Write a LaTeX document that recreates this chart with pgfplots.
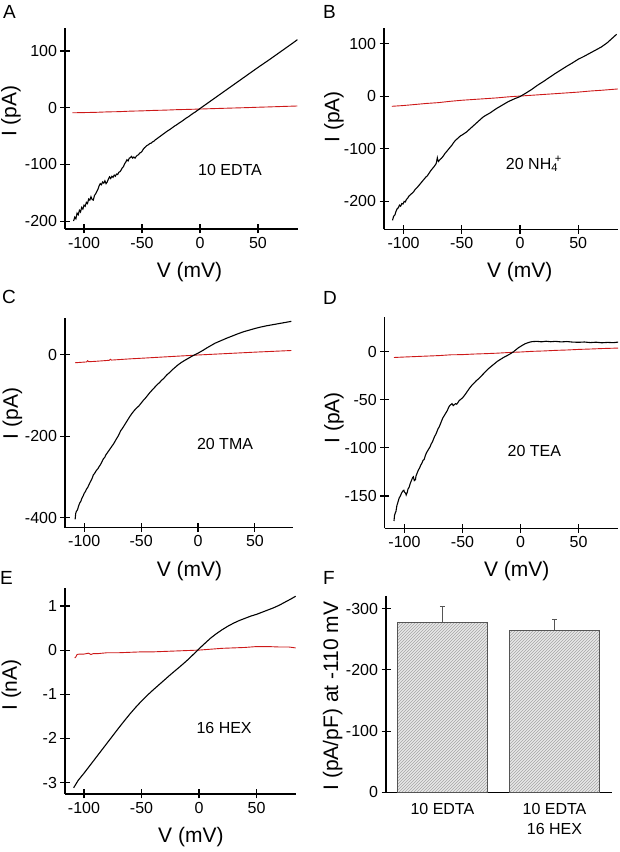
\documentclass[border=0pt]{standalone}
\usepackage{fontspec}
\setmainfont{Liberation Sans}
\usepackage{pgfplots}
\pgfplotsset{compat=1.18}
\usetikzlibrary{patterns}
\definecolor{tracered}{RGB}{205,25,25}
\definecolor{bargray}{RGB}{232,232,232}
\definecolor{hatchgray}{RGB}{165,165,165}
\definecolor{edgegray}{RGB}{85,85,85}
\tikzset{
  blk/.style={black, line width=1.1pt},
  rd/.style={tracered, line width=0.9pt},
  ann/.style={font=\fontsize{16}{18}\selectfont},
  letter/.style={anchor=base west, inner sep=0pt, font=\fontsize{19}{22}\selectfont},
}
\pgfplotsset{
  igor/.style={
    scale only axis, anchor=south west,
    axis x line*=bottom, axis y line*=left,
    axis line style={line width=1.1pt,-},
    tick align=center, major tick length=9pt,
    every tick/.style={line width=1.1pt,black},
    tick label style={font=\fontsize{16}{18}\selectfont},
    label style={font=\fontsize{21}{24}\selectfont},
    /pgf/number format/assume math mode=true,
    xtick={-100,-50,0,50},
    xlabel={V (mV)},
  },
}
\newcommand{\xlab}[1]{xlabel style={at={(axis description cs:#1,0)}, anchor=center, yshift=-43pt}}
\newcommand{\ylab}[2]{ylabel style={at={(axis description cs:#1,#2)}, anchor=center}}
\begin{document}
\begin{tikzpicture}
\useasboundingbox (0,0) rectangle (620pt,852pt);
\node[letter] at (3pt,833.5pt) {A};
\node[letter] at (323pt,833.5pt) {B};
\node[letter] at (2pt,548pt) {C};
\node[letter] at (323pt,547pt) {D};
\node[letter] at (0pt,267pt) {E};
\node[letter] at (323pt,267pt) {F};

% ---------- A ----------
\begin{axis}[igor, at={(65pt,623pt)}, width=233pt, height=201pt,
  xmin=-116.4, xmax=84.5, ymin=-214, ymax=140.6,
  ytick={-200,-100,0,100}, ylabel={I (pA)}, \xlab{0.534}, \ylab{-0.232}{0.587}]
\addplot[rd] coordinates {(-110,-9) (-100,-8.6) (-90,-8.2) (-80,-7.4) (-70,-7) (-60,-6.1) (-50,-5.6) (-40,-4.8) (-30,-4.3) (-20,-3.5) (-10,-3) (0,-2.4) (10,-1.7) (20,-1.1) (30,-0.5) (40,0.1) (50,0.8) (60,1.4) (70,2.1) (84,3)};
\addplot[blk] coordinates {(-109,-200) (-108,-193) (-107,-196) (-106,-186) (-105,-189) (-104,-181) (-103,-184) (-102,-176) (-101,-179) (-100,-172) (-99,-174) (-98,-167) (-97,-169) (-96,-161) (-95,-163) (-94,-157) (-93,-162) (-92,-163) (-91,-155) (-90,-152) (-89,-148) (-88,-144) (-87,-138) (-86,-134) (-85,-136) (-84,-131) (-83,-133) (-82,-129) (-81,-134) (-80,-131) (-79,-126) (-78,-122) (-77,-125) (-76,-121) (-75,-123) (-74,-119) (-73,-121) (-72,-117) (-71,-118) (-70,-114) (-69,-113) (-68,-110) (-67,-106) (-66,-104) (-65,-99) (-64,-96) (-63,-92) (-62,-94) (-61,-89) (-60,-88) (-59,-86) (-58,-89) (-57,-87) (-56,-89) (-55,-86) (-54,-84) (-53,-83) (-52,-80) (-51,-79) (-50,-77) (-49,-73.5) (-48,-71) (-47,-69) (-46,-67) (-45,-66) (-44,-64.5) (-43,-63) (-42,-62.5) (-41,-60.5) (-40,-59.5) (-39,-57.5) (-38,-56) (-37,-54.5) (-36,-53) (-35,-51.5) (-34,-50) (-33,-48.5) (-32,-47) (-31,-45.5) (-30,-44) (-28,-41) (-26,-38.5) (-24,-35.5) (-22,-32.5) (-20,-30) (-18,-27) (-16,-24.5) (-14,-21.5) (-12,-18.5) (-10,-16) (-8,-13) (-6,-10) (-4,-7.5) (-2,-4.5) (0,-1.5) (10,13) (20,27.5) (30,42) (40,56.5) (50,71) (60,85) (70,99.5) (80,114) (84,120)};
\node[ann] at (axis cs:25.9,-110.4) {10 EDTA};
\end{axis}

% ---------- B ----------
\begin{axis}[igor, at={(384pt,622.7pt)}, width=234pt, height=201.3pt,
  xmin=-116.8, xmax=84.2, ymin=-253, ymax=130,
  ytick={-200,-100,0,100}, ylabel={I (pA)}, \xlab{0.58}, \ylab{-0.214}{0.558}]
\addplot[rd] coordinates {(-110,-19) (-100,-17.5) (-90,-15.5) (-80,-13.5) (-70,-12) (-60,-9.5) (-50,-7.5) (-40,-6) (-30,-4.5) (-20,-3) (-10,-1) (0,0.5) (10,2) (20,3.5) (30,5) (40,6.5) (50,8) (60,10) (70,11.5) (84,14)};
\addplot[blk] coordinates {(-109.5,-236) (-108.5,-228) (-107.5,-226) (-106.5,-219) (-105.5,-214) (-104.5,-212) (-103.5,-207) (-102.5,-209) (-101.5,-204) (-100.5,-205) (-99.5,-200) (-98.5,-201) (-97.5,-196) (-96.5,-194) (-95.5,-190) (-94.5,-188) (-93,-185) (-91.5,-182) (-90,-177) (-88.5,-174) (-87,-170) (-85.5,-166) (-84,-162) (-82.5,-158) (-81,-154) (-79.5,-151) (-78,-146) (-76.5,-141) (-75,-137) (-73.5,-133) (-72,-128) (-71.5,-123) (-71,-117) (-70.5,-122) (-70,-124) (-69,-121) (-67.5,-118) (-66,-114) (-64.5,-109) (-63,-105) (-61.5,-101) (-60,-97) (-58.5,-93) (-57,-88) (-55.5,-84) (-54,-81) (-52.5,-78) (-51,-75) (-50,-74) (-48,-71) (-46,-68) (-44,-64) (-42,-60) (-40,-56) (-38,-52) (-36,-48) (-34,-44) (-32,-40) (-30,-37) (-28,-34.5) (-26,-32) (-24,-29) (-22,-26) (-20,-23) (-15,-16.5) (-10,-10) (-5,-5) (0,-0.5) (5,6) (10,13) (15,21) (20,28) (25,35.5) (30,43) (35,50) (40,57) (45,63.5) (50,70.5) (55,76) (60,82) (65,88) (70,94) (75,102) (80,112) (83,118)};
\node[ann] at (axis cs:12,-129) {20 NH\textsubscript{4}\kern-0.2em\textsuperscript{+}};
\end{axis}

% ---------- C ----------
\begin{axis}[igor, at={(65pt,324.3pt)}, width=228.3pt, height=209.4pt,
  xmin=-116.9, xmax=83.7, ymin=-424.5, ymax=89,
  ytick={-400,-200,0}, ylabel={I (pA)}, \xlab{0.545}, \ylab{-0.23}{0.545}]
\addplot[rd] coordinates {(-108,-20) (-98,-18) (-97,-15) (-96,-17.5) (-90,-16.5) (-78,-14) (-77,-11.5) (-76,-13.5) (-60,-10.5) (-50,-9) (-25,-5) (0,-1) (25,2.5) (50,6) (82,10)};
\addplot[blk] coordinates {(-108,-404) (-107.5,-390) (-107,-385) (-106,-381) (-105,-372) (-104,-364) (-103,-360) (-102,-352) (-101,-347) (-100,-340) (-99,-336) (-98,-330) (-97,-326) (-96,-320) (-95,-314) (-94,-309) (-93,-303) (-92,-295) (-91,-292) (-90,-287) (-89,-283) (-88,-280) (-87,-275) (-86,-271) (-85,-266) (-84,-260) (-83,-255) (-82,-252) (-81,-246) (-80,-242) (-78,-234) (-76,-226) (-74,-218) (-72,-208) (-70,-199) (-68,-187) (-66,-179) (-64,-170) (-62,-161) (-60,-152) (-58,-144) (-56,-137) (-54,-131) (-52,-126) (-50,-119) (-48,-112) (-46,-106) (-44,-99) (-42,-92) (-40,-86) (-38,-80) (-36,-74) (-34,-69) (-32,-63) (-30,-58) (-27.5,-50) (-25,-44) (-22.5,-37) (-20,-31) (-17.5,-25) (-15,-20) (-12.5,-15.5) (-10,-11.5) (-7.5,-7.5) (-5,-3.5) (-2.5,0) (0,3.5) (2.5,7.5) (5,11.5) (7.5,16) (10,20) (15,28) (20,34) (25,40) (30,45.5) (35,51) (40,56) (45,60) (50,64) (55,67.5) (60,70.5) (65,73) (70,75.5) (75,78) (80,80.5) (82,81.5)};
\node[ann] at (axis cs:23.7,-219) {20 TMA};
\end{axis}

% ---------- D ----------
\begin{axis}[igor, at={(384.7pt,323.7pt)}, width=233.6pt, height=211pt,
  xmin=-117, xmax=84.2, ymin=-183.6, ymax=35.8,
  ytick={-150,-100,-50,0}, ylabel={I (pA)}, \xlab{0.565}, \ylab{-0.217}{0.523}]
\addplot[rd] coordinates {(-109,-6) (-100,-5.5) (-90,-5) (-80,-4.5) (-70,-4) (-60,-3.2) (-50,-3) (-40,-2.4) (-30,-2) (-20,-1.5) (-10,-0.8) (0,-0.3) (10,0.4) (20,0.8) (30,1.4) (40,1.8) (50,2.4) (60,2.8) (70,3.3) (84,3.8)};
\addplot[blk] coordinates {(-109,-176) (-108.5,-170) (-108,-168) (-107.3,-166) (-106.5,-160) (-105.5,-156) (-104.5,-152) (-103.5,-150) (-102.5,-147) (-101.5,-145) (-100.5,-144) (-100,-146) (-99,-147) (-98.5,-149) (-97.5,-146) (-97,-143) (-96,-141) (-95,-137) (-94,-134) (-93,-131) (-92.3,-130) (-91.5,-134) (-90.5,-133) (-90,-129) (-89,-126) (-88,-123) (-87,-121) (-86,-118) (-85,-116) (-84,-113) (-83,-112) (-82,-108) (-81,-105) (-80,-103) (-79,-101) (-78,-99) (-77,-96) (-76,-94) (-75,-91) (-74,-88) (-73,-86) (-72,-83) (-71,-80) (-70,-78) (-69,-75) (-68,-72) (-67,-69) (-66,-67) (-65,-65) (-64,-63) (-63,-61) (-62,-58) (-61,-56) (-60,-55) (-59,-54) (-58,-56) (-57,-55) (-56,-54) (-55,-54.5) (-54,-53) (-53,-51) (-52,-50) (-51,-49) (-50,-48) (-48,-45) (-46,-41.5) (-44,-38) (-42,-35) (-40,-32.5) (-38,-30) (-36,-28) (-34,-25.5) (-32,-23) (-30,-20.5) (-28,-18) (-26,-16) (-24,-14) (-22,-12) (-20,-10) (-18,-8.5) (-16,-7) (-14,-5.5) (-12,-4.3) (-10,-3) (-8,-1.5) (-6,0) (-4,2) (-2,4) (0,5.5) (2,7) (4,8.3) (6,9.2) (8,10) (10,10.5) (14,10.8) (18,10.3) (22,10.9) (26,10.4) (30,10.8) (35,10.2) (40,10.6) (45,10) (50,9.8) (55,10.1) (60,9.5) (65,9.9) (70,9.3) (75,9.7) (80,9.4) (84,10)};
\node[ann] at (axis cs:11.9,-103) {20 TEA};
\end{axis}

% ---------- E ----------
\begin{axis}[igor, at={(65pt,58pt)}, width=231pt, height=205.7pt,
  xmin=-116.5, xmax=84.3, ymin=-3.26, ymax=1.40,
  ytick={-3,-2,-1,0,1}, ylabel={I (nA)}, \xlab{0.545}, \ylab{-0.232}{0.53}]
\addplot[rd] coordinates {(-108,-0.18) (-107,-0.15) (-106,-0.1) (-104,-0.09) (-100,-0.09) (-96,-0.07) (-94,-0.1) (-92,-0.08) (-88,-0.08) (-84,-0.07) (-80,-0.06) (-70,-0.06) (-60,-0.05) (-50,-0.04) (-40,-0.04) (-30,-0.03) (-20,-0.02) (-10,-0.01) (0,0.0) (10,0.02) (20,0.04) (30,0.05) (40,0.06) (50,0.08) (60,0.08) (70,0.07) (78,0.07) (84,0.05)};
\addplot[blk] coordinates {(-109,-3.12) (-105,-2.95) (-100,-2.79) (-95,-2.62) (-90,-2.45) (-85,-2.28) (-80,-2.11) (-75,-1.94) (-70,-1.77) (-65,-1.605) (-60,-1.445) (-55,-1.295) (-50,-1.155) (-45,-1.025) (-40,-0.905) (-35,-0.79) (-30,-0.675) (-25,-0.56) (-20,-0.45) (-15,-0.34) (-10,-0.225) (-5,-0.1) (0,0.03) (5,0.15) (10,0.27) (15,0.37) (20,0.46) (25,0.54) (30,0.61) (35,0.67) (40,0.72) (45,0.77) (50,0.81) (55,0.86) (60,0.91) (65,0.96) (70,1.02) (75,1.09) (80,1.16) (84,1.22)};
\node[ann] at (axis cs:21.8,-1.77) {16 HEX};
\end{axis}

% ---------- F ----------
\begin{axis}[scale only axis, anchor=south west, at={(386pt,59.7pt)}, width=225.7pt, height=196.3pt,
  axis x line*=bottom, axis y line*=left,
  axis line style={line width=1.1pt,-},
  tick align=center, major tick length=9pt,
  every tick/.style={line width=1.1pt,black},
  tick label style={font=\fontsize{16}{18}\selectfont},
  label style={font=\fontsize{21}{24}\selectfont},
  /pgf/number format/assume math mode=true,
  y dir=reverse, ymin=-320.7, ymax=0, ytick={-300,-200,-100,0},
  xmin=-0.503, xmax=1.51, xtick={0,1},
  xticklabels={10 EDTA, {10 EDTA\\16 HEX}},
  xticklabel style={align=center, font=\fontsize{16}{20}\selectfont, yshift=-3pt},
  x tick style={draw=none},
  ylabel={I (pA/pF) at -110 mV}, \ylab{-0.236}{0.49}]
\addplot[ybar, bar width=90pt, fill=bargray, draw=edgegray, line width=0.9pt,
  postaction={pattern=north east lines, pattern color=hatchgray},
  error bars/.cd, y dir=minus, y explicit,
  error bar style={line width=1pt, edgegray},
  error mark options={rotate=90, line width=1pt, edgegray, mark size=2.5pt}]
  coordinates {(0,-278) -= (0,26) (1,-264) -= (0,18)};
\end{axis}
\end{tikzpicture}
\end{document}
